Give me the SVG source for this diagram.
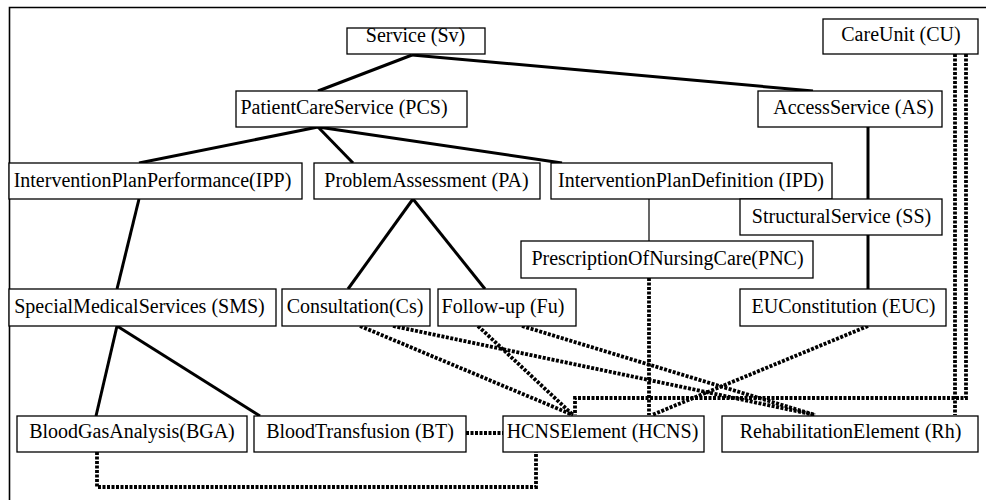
<svg xmlns="http://www.w3.org/2000/svg" width="986" height="500" viewBox="0 0 986 500">
<style>
.box{fill:#fff;stroke:#000;stroke-width:1.3}
.t{font-family:'Liberation Serif','DejaVu Serif',serif;font-size:20px;fill:#000;text-anchor:middle}
.s{stroke:#000;stroke-width:3;fill:none}
.thin{stroke:#000;stroke-width:1.2;fill:none}
.d{stroke:#000;stroke-width:3.8;fill:none;stroke-dasharray:3 1.5}
</style>
<rect x="0" y="0" width="986" height="500" fill="#fff"/>
<path d="M9.5,500 V7.5 H986" fill="none" stroke="#000" stroke-width="1.6"/>
<g id="connectors">
<line class="s" x1="412" y1="55" x2="318" y2="91"/>
<line class="s" x1="412" y1="55" x2="813" y2="91"/>
<line class="s" x1="318" y1="127" x2="139" y2="163"/>
<line class="s" x1="318" y1="127" x2="353" y2="163"/>
<line class="s" x1="318" y1="127" x2="562" y2="163"/>
<line class="s" x1="868" y1="127" x2="868" y2="199"/>
<line class="thin" x1="649" y1="199" x2="649" y2="241"/>
<line class="s" x1="868" y1="235" x2="868" y2="289"/>
<line class="s" x1="139" y1="199" x2="117" y2="289"/>
<line class="s" x1="413" y1="199" x2="348" y2="289"/>
<line class="s" x1="413" y1="199" x2="485" y2="289"/>
<line class="s" x1="117" y1="326" x2="96" y2="416"/>
<line class="s" x1="117" y1="326" x2="260" y2="416"/>
<line class="d" x1="360" y1="326" x2="573" y2="415"/>
<line class="d" x1="393" y1="326" x2="815" y2="415"/>
<line class="d" x1="478" y1="326" x2="573" y2="415"/>
<line class="d" x1="522" y1="326" x2="815" y2="415"/>
<line class="d" x1="649" y1="278" x2="649" y2="415"/>
<line class="d" x1="868" y1="326" x2="652" y2="415"/>
<line class="d" x1="955" y1="54" x2="955" y2="415"/>
<path class="d" d="M966,54 V398 H575 V415"/>
<line class="d" x1="466" y1="433" x2="503" y2="433"/>
<path class="d" d="M97,452 V487 H536 V452"/>
</g>
<g id="Sv"><rect class="box" x="347" y="28" width="138" height="26"/><text class="t" font-family="Liberation Serif, DejaVu Serif, serif" x="415.5" y="42">Service (Sv)</text></g>
<g id="CU"><rect class="box" x="823" y="19" width="155" height="35"/><text class="t" font-family="Liberation Serif, DejaVu Serif, serif" x="901" y="41">CareUnit (CU)</text></g>
<g id="PCS"><rect class="box" x="236" y="91" width="231" height="36"/><text class="t" font-family="Liberation Serif, DejaVu Serif, serif" x="344" y="114">PatientCareService (PCS)</text></g>
<g id="AS"><rect class="box" x="758" y="91" width="184" height="36"/><text class="t" font-family="Liberation Serif, DejaVu Serif, serif" x="853.5" y="114">AccessService (AS)</text></g>
<g id="IPP"><rect class="box" x="9" y="163" width="293" height="36"/><text class="t" font-family="Liberation Serif, DejaVu Serif, serif" x="152.5" y="187">InterventionPlanPerformance(IPP)</text></g>
<g id="PA"><rect class="box" x="314" y="163" width="226" height="36"/><text class="t" font-family="Liberation Serif, DejaVu Serif, serif" x="426.5" y="187">ProblemAssessment (PA)</text></g>
<g id="IPD"><rect class="box" x="551" y="163" width="281" height="36"/><text class="t" font-family="Liberation Serif, DejaVu Serif, serif" x="691" y="187">InterventionPlanDefinition (IPD)</text></g>
<g id="SS"><rect class="box" x="740" y="199" width="202" height="36"/><text class="t" font-family="Liberation Serif, DejaVu Serif, serif" x="841.5" y="223">StructuralService (SS)</text></g>
<g id="PNC"><rect class="box" x="521" y="241" width="292" height="37"/><text class="t" font-family="Liberation Serif, DejaVu Serif, serif" x="667.5" y="265">PrescriptionOfNursingCare(PNC)</text></g>
<g id="SMS"><rect class="box" x="9" y="289" width="267" height="37"/><text class="t" font-family="Liberation Serif, DejaVu Serif, serif" x="139.5" y="313">SpecialMedicalServices (SMS)</text></g>
<g id="Cs"><rect class="box" x="282" y="289" width="148" height="37"/><text class="t" font-family="Liberation Serif, DejaVu Serif, serif" x="355" y="313">Consultation(Cs)</text></g>
<g id="Fu"><rect class="box" x="438" y="289" width="138" height="37"/><text class="t" font-family="Liberation Serif, DejaVu Serif, serif" x="503" y="313">Follow-up (Fu)</text></g>
<g id="EUC"><rect class="box" x="740" y="289" width="206" height="37"/><text class="t" font-family="Liberation Serif, DejaVu Serif, serif" x="843.5" y="313">EUConstitution (EUC)</text></g>
<g id="BGA"><rect class="box" x="17" y="416" width="230" height="36"/><text class="t" font-family="Liberation Serif, DejaVu Serif, serif" x="132" y="438">BloodGasAnalysis(BGA)</text></g>
<g id="BT"><rect class="box" x="254" y="416" width="212" height="36"/><text class="t" font-family="Liberation Serif, DejaVu Serif, serif" x="360" y="438">BloodTransfusion (BT)</text></g>
<g id="HCNS"><rect class="box" x="503" y="416" width="201" height="36"/><text class="t" font-family="Liberation Serif, DejaVu Serif, serif" x="602.5" y="438">HCNSElement (HCNS)</text></g>
<g id="Rh"><rect class="box" x="722" y="416" width="256" height="36"/><text class="t" font-family="Liberation Serif, DejaVu Serif, serif" x="850.5" y="438">RehabilitationElement (Rh)</text></g>
</svg>
